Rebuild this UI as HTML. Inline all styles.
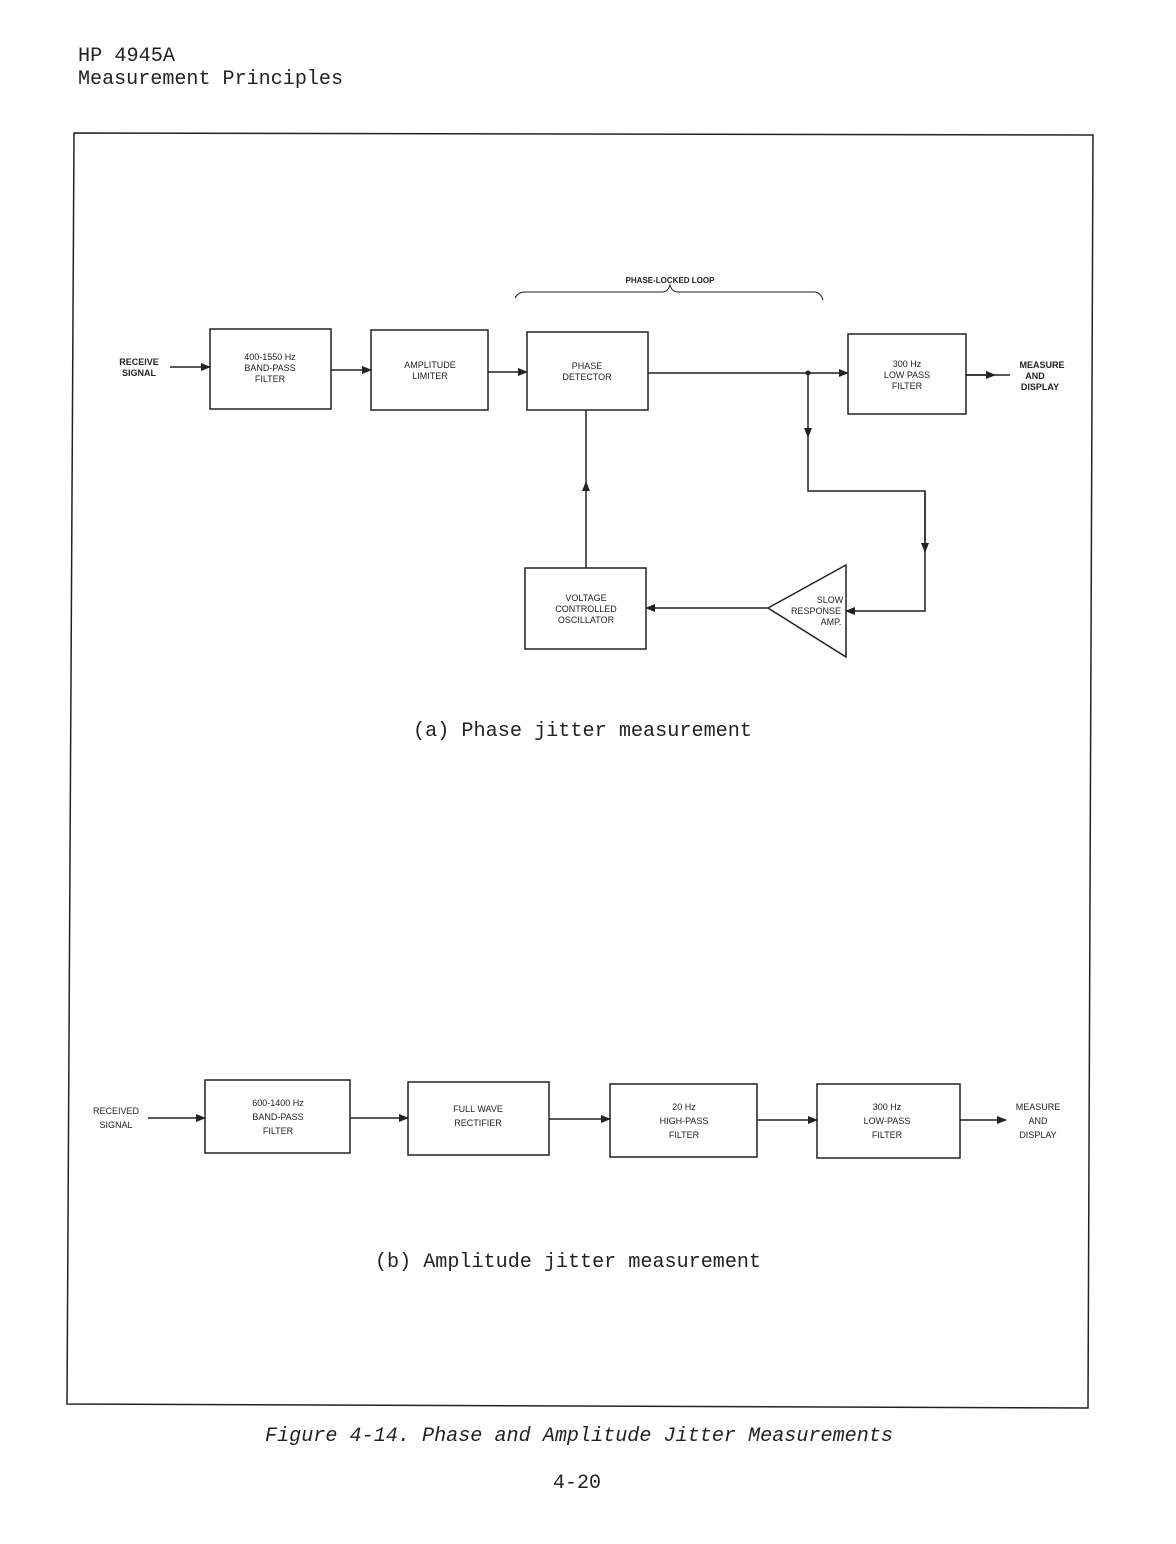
<!DOCTYPE html>
<html><head><style>
html,body{margin:0;padding:0;background:#fff;}
svg{display:block;}
.m{font-family:"Liberation Mono",monospace;font-size:20px;fill:#222;}
.s{font-family:"Liberation Sans",sans-serif;font-size:9px;fill:#222;text-anchor:middle;}
.b{font-weight:bold;}
</style></head><body>
<svg width="1176" height="1544" viewBox="0 0 1176 1544" xmlns="http://www.w3.org/2000/svg">
<defs><marker id="a" markerWidth="10" markerHeight="8" refX="9" refY="4" orient="auto" markerUnits="userSpaceOnUse"><path d="M0,0 L10,4 L0,8 z" fill="#222"/></marker></defs>
<text class="m" x="78" y="61" textLength="97" lengthAdjust="spacingAndGlyphs">HP 4945A</text>
<text class="m" x="78" y="84" textLength="265" lengthAdjust="spacingAndGlyphs">Measurement Principles</text>
<polygon points="74,133 1093,135 1088,1408 67,1404" fill="none" stroke="#222" stroke-width="1.5"/>
<g fill="none" stroke="#222" stroke-width="1.5">
<path d="M515,298 Q518,292 525,292 L662,292 Q668,292 670,285 Q672,292 678,292 L815,292 Q821,293 823,300" stroke-width="1"/>
<rect x="210" y="329" width="121" height="80"/>
<rect x="371" y="330" width="117" height="80"/>
<rect x="527" y="332" width="121" height="78"/>
<rect x="848" y="334" width="118" height="80"/>
<rect x="525" y="568" width="121" height="81"/>
<polygon points="768,608 846,565 846,657"/>
<line x1="170" y1="367" x2="210" y2="367" marker-end="url(#a)"/>
<line x1="331" y1="370" x2="371" y2="370" marker-end="url(#a)"/>
<line x1="488" y1="372" x2="527" y2="372" marker-end="url(#a)"/>
<line x1="648" y1="373" x2="848" y2="373" marker-end="url(#a)"/>
<line x1="966" y1="375" x2="1010" y2="375"/>
<line x1="966" y1="375" x2="995" y2="375" marker-end="url(#a)"/>
<line x1="808" y1="373" x2="808" y2="437" marker-end="url(#a)"/>
<polyline points="808,437 808,491 925,491 925,552"/>
<line x1="925" y1="491" x2="925" y2="552" marker-end="url(#a)"/>
<polyline points="925,552 925,611 846,611" marker-end="url(#a)"/>
<line x1="768" y1="608" x2="646" y2="608" marker-end="url(#a)"/>
<line x1="586" y1="568" x2="586" y2="482" marker-end="url(#a)"/>
<line x1="586" y1="482" x2="586" y2="410"/>
<rect x="205" y="1080" width="145" height="73"/>
<rect x="408" y="1082" width="141" height="73"/>
<rect x="610" y="1084" width="147" height="73"/>
<rect x="817" y="1084" width="143" height="74"/>
<line x1="148" y1="1118" x2="205" y2="1118" marker-end="url(#a)"/>
<line x1="350" y1="1118" x2="408" y2="1118" marker-end="url(#a)"/>
<line x1="549" y1="1119" x2="610" y2="1119" marker-end="url(#a)"/>
<line x1="757" y1="1120" x2="817" y2="1120" marker-end="url(#a)"/>
<line x1="960" y1="1120" x2="1006" y2="1120" marker-end="url(#a)"/>
</g>
<circle cx="808" cy="373" r="2.5" fill="#222"/>
<text class="s b" x="670" y="283" style="font-size:8px">PHASE-LOCKED LOOP</text>
<text class="s b" x="139" y="365">RECEIVE</text><text class="s b" x="139" y="376">SIGNAL</text>
<text class="s" x="270" y="360">400-1550 Hz</text><text class="s" x="270" y="371">BAND-PASS</text><text class="s" x="270" y="382">FILTER</text>
<text class="s" x="430" y="368">AMPLITUDE</text><text class="s" x="430" y="379">LIMITER</text>
<text class="s" x="587" y="369">PHASE</text><text class="s" x="587" y="380">DETECTOR</text>
<text class="s" x="907" y="367">300 Hz</text><text class="s" x="907" y="378">LOW PASS</text><text class="s" x="907" y="389">FILTER</text>
<text class="s b" x="1042" y="368">MEASURE</text><text class="s b" x="1035" y="379">AND</text><text class="s b" x="1040" y="390">DISPLAY</text>
<text class="s" x="586" y="601">VOLTAGE</text><text class="s" x="586" y="612">CONTROLLED</text><text class="s" x="586" y="623">OSCILLATOR</text>
<text class="s" x="830" y="603">SLOW</text><text class="s" x="816" y="614">RESPONSE</text><text class="s" x="831" y="625">AMP.</text>
<text class="m" x="413" y="736" textLength="339" lengthAdjust="spacingAndGlyphs">(a) Phase jitter measurement</text>
<text class="s" x="116" y="1114">RECEIVED</text><text class="s" x="116" y="1128">SIGNAL</text>
<text class="s" x="278" y="1106">600-1400 Hz</text><text class="s" x="278" y="1120">BAND-PASS</text><text class="s" x="278" y="1134">FILTER</text>
<text class="s" x="478" y="1112">FULL WAVE</text><text class="s" x="478" y="1126">RECTIFIER</text>
<text class="s" x="684" y="1110">20 Hz</text><text class="s" x="684" y="1124">HIGH-PASS</text><text class="s" x="684" y="1138">FILTER</text>
<text class="s" x="887" y="1110">300 Hz</text><text class="s" x="887" y="1124">LOW-PASS</text><text class="s" x="887" y="1138">FILTER</text>
<text class="s" x="1038" y="1110">MEASURE</text><text class="s" x="1038" y="1124">AND</text><text class="s" x="1038" y="1138">DISPLAY</text>
<text class="m" x="375" y="1267" textLength="386" lengthAdjust="spacingAndGlyphs">(b) Amplitude jitter measurement</text>
<text class="m" x="265" y="1441" style="font-style:italic" textLength="628" lengthAdjust="spacingAndGlyphs">Figure 4-14. Phase and Amplitude Jitter Measurements</text>
<text class="m" x="553" y="1488" textLength="48" lengthAdjust="spacingAndGlyphs">4-20</text>
</svg>
</body></html>
